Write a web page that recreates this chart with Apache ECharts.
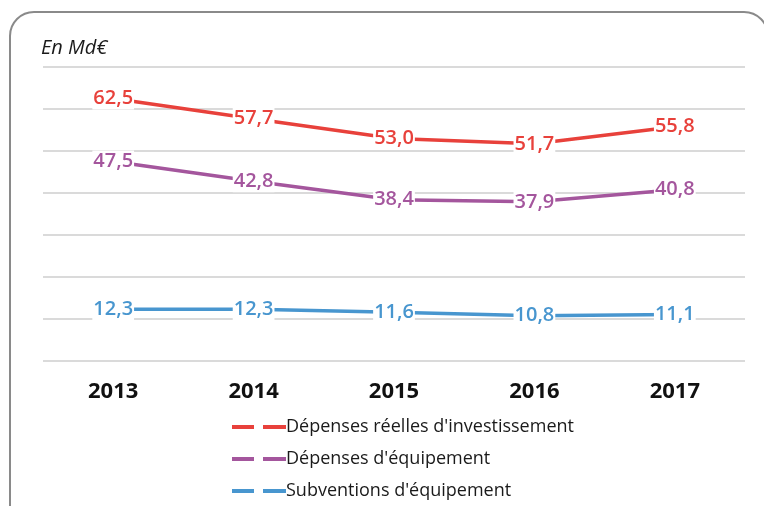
<!DOCTYPE html>
<html>
<head>
<meta charset="utf-8">
<script src="https://cdn.jsdelivr.net/npm/echarts@6/dist/echarts.min.js"></script>
<style>
  html, body { margin: 0; padding: 0; background: #fff; }
  #chart { width: 764px; height: 506px; }
</style>
</head>
<body>
<div id="chart"></div>
<script>
var years = ["2013", "2014", "2015", "2016", "2017"];
var depensesReelles = [62.5, 57.7, 53.0, 51.7, 55.8];
var depensesEquipement = [47.5, 42.8, 38.4, 37.9, 40.8];
var subventions = [12.3, 12.3, 11.6, 10.8, 11.1];
var seriesNames = ["Dépenses réelles d'investissement", "Dépenses d'équipement", "Subventions d'équipement"];
var colors = ["#e8413b", "#a4569d", "#4896cf"];

var font = "'Open Sans', 'Noto Sans', sans-serif";

function lineSerie(name, data, color) {
  return {
    name: name,
    type: "line",
    data: data,
    symbol: "circle",
    symbolSize: 0,
    itemStyle: { color: color },
    lineStyle: { color: color, width: 3.5 },
    label: {
      show: true,
      position: "inside",
      color: color,
      fontFamily: font,
      fontSize: 20,
      fontWeight: 600,
      backgroundColor: "#fff",
      padding: [2, 1, 0, 1],
      formatter: function (p) {
        return p.value.toFixed(1).replace(".", ",");
      }
    },
    emphasis: { disabled: true }
  };
}

var option = {
  animation: false,
  color: colors,
  graphic: [{
    type: "rect",
    shape: { x: 10, y: 12, width: 758, height: 520, r: 24 },
    style: { fill: "none", stroke: "#8a8a8a", lineWidth: 2 },
    z: -1
  }],
  title: {
    text: "En Md€",
    left: 36,
    top: 33,
    textStyle: {
      fontFamily: font,
      fontStyle: "italic",
      fontWeight: "normal",
      fontSize: 20,
      color: "#1a1a1a"
    }
  },
  legend: {
    orient: "vertical",
    left: 227,
    top: 413,
    itemGap: 14,
    itemWidth: 54,
    itemHeight: 4,
    icon: "path://M0,0H22V4H0Z M31,0H54V4H31Z",
    itemStyle: { opacity: 1 },
    textStyle: { fontFamily: font, fontSize: 18, color: "#1a1a1a", padding: [0, 0, 0, -5] },
    data: seriesNames
  },
  grid: { left: 43, right: 19, top: 67, bottom: 145 },
  xAxis: {
    type: "category",
    data: years,
    boundaryGap: true,
    axisLine: { show: false },
    axisTick: { show: false },
    axisLabel: {
      margin: 20,
      color: "#111",
      fontFamily: font,
      fontSize: 22,
      fontWeight: "bold"
    }
  },
  yAxis: {
    type: "value",
    min: 0,
    max: 70,
    interval: 10,
    axisLabel: { show: false },
    axisLine: { show: false },
    axisTick: { show: false },
    splitLine: { lineStyle: { color: "#dadada", width: 2 } }
  },
  series: [
    lineSerie(seriesNames[0], depensesReelles, colors[0]),
    lineSerie(seriesNames[1], depensesEquipement, colors[1]),
    lineSerie(seriesNames[2], subventions, colors[2])
  ]
};

var chart = echarts.init(document.getElementById("chart"));
chart.setOption(option);
</script>
</body>
</html>
